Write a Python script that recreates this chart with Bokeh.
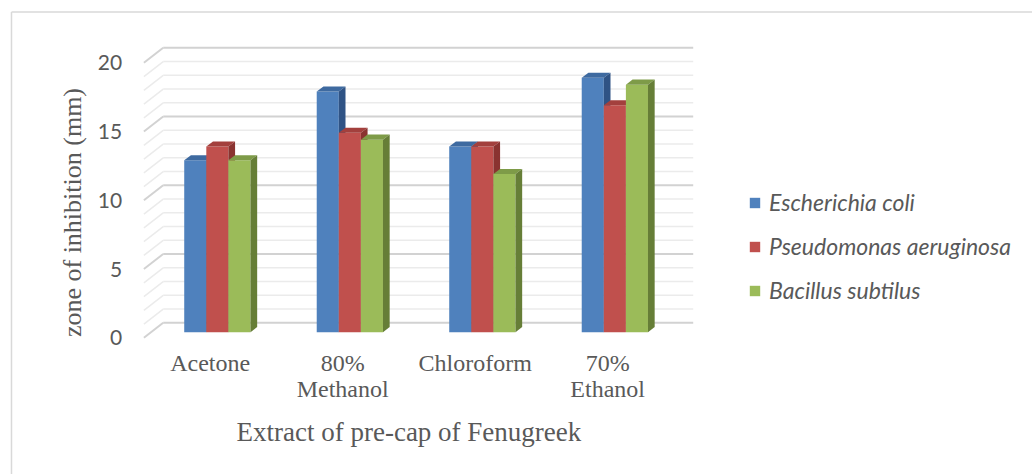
from bokeh.plotting import figure
from bokeh.models import Range1d, Legend, LegendItem
from bokeh.core.properties import value
from bokeh.embed import file_html
from bokeh.resources import INLINE

# ---------------- data ----------------
categories = ["Acetone", "80%\nMethanol", "Chloroform", "70%\nEthanol"]
series_names = ["Escherichia coli", "Pseudomonas aeruginosa", "Bacillus subtilus"]
e_coli = [12.5, 17.5, 13.5, 18.5]
p_aeruginosa = [13.5, 14.5, 13.5, 16.5]
b_subtilus = [12.5, 14.0, 11.5, 18.0]
y_ticks = [0, 5, 10, 15, 20]
y_minor = list(range(0, 21))
x_title = "Extract of pre-cap of Fenugreek"
y_title = "zone of inhibition (mm)"

# ---------------- styles ----------------
face_colors = ["#4F81BD", "#C0504D", "#9BBB59"]
top_colors = ["#3E6AA0", "#A3403D", "#7E9B48"]
side_colors = ["#2F5385", "#8A3330", "#667E37"]
text_gray = "#595959"

W, H = 1032, 474
X0, X1 = -1.08226, 6.70642
Y0, Y1 = -9.9418, 24.5309
DX, DY = 0.14566, 1.0909      # oblique depth offset (data units) of the back wall
D0, DB = 0.373, 0.347         # bar front-face depth, bar thickness (fraction of depth)
BAR_W = 1 / 6

p = figure(width=W, height=H, output_backend="svg", toolbar_location=None,
           x_range=Range1d(X0, X1), y_range=Range1d(Y0, Y1),
           x_axis_location=None, y_axis_location=None, min_border=0)
p.outline_line_color = None
p.xgrid.grid_line_color = None
p.ygrid.grid_line_color = None
p.background_fill_color = "white"

ncat = len(categories)
xb = -0.99925
yb = 23.695
# chart-area border (top and left)
p.line(x=[xb, X1], y=[yb, yb], line_color="#D9D9D9", line_width=1.5)
p.line(x=[xb, xb], y=[yb, Y0], line_color="#D9D9D9", line_width=1.5)

# gridlines: back wall + left side-wall diagonals
for vals, col, lw in [([v for v in y_minor if v % 5], "#EBEBEB", 1.5),
                      ([v for v in y_minor if v % 5 == 0], "#D2D2D2", 2.0)]:
    p.multi_line(xs=[[DX, DX + ncat] for v in vals], ys=[[v + DY, v + DY] for v in vals],
                 line_color=col, line_width=lw)
    p.multi_line(xs=[[0, DX] for v in vals], ys=[[v, v + DY] for v in vals],
                 line_color=col, line_width=lw)

# bars
series = [e_coli, p_aeruginosa, b_subtilus]
face_renderers = []
base = D0 * DY
for i, vals in enumerate(series):
    xl = [c + 0.25 + i * BAR_W + D0 * DX for c in range(ncat)]
    xc = [x + BAR_W / 2 for x in xl]
    tops = [base + v for v in vals]
    r = p.vbar(x=xc, width=BAR_W, bottom=base, top=tops,
               fill_color=face_colors[i], line_color=None)
    face_renderers.append(r)
    ddx, ddy = DB * DX, DB * DY
    top_xs = [[x, x + BAR_W, x + BAR_W + ddx, x + ddx] for x in xl]
    top_ys = [[t, t, t + ddy, t + ddy] for t in tops]
    p.patches(xs=top_xs, ys=top_ys, fill_color=top_colors[i], line_color=None)
    side_xs = [[x + BAR_W, x + BAR_W, x + BAR_W + ddx, x + BAR_W + ddx] for x in xl]
    side_ys = [[base, t, t + ddy, base + ddy] for t in tops]
    p.patches(xs=side_xs, ys=side_ys, fill_color=side_colors[i], line_color=None)

# y tick labels
p.text(x=[-0.1638] * len(y_ticks), y=y_ticks, text=[str(t) for t in y_ticks],
       text_align="right", text_baseline="middle", text_color=text_gray,
       text_font=value("Lato"), text_font_size="21px")

# category labels (possibly two lines)
line1 = [c.split("\n")[0] for c in categories]
line2 = [c.split("\n")[1] if "\n" in c else "" for c in categories]
cx = [c + 0.5 for c in range(ncat)]
p.text(x=cx, y=[-1.825] * ncat, text=line1, text_align="center", text_baseline="alphabetic",
       text_color=text_gray, text_font=value("Liberation Serif"), text_font_size="24px")
p.text(x=cx, y=[-3.716] * ncat, text=line2, text_align="center", text_baseline="alphabetic",
       text_color=text_gray, text_font=value("Liberation Serif"), text_font_size="24px")

# axis titles
p.text(x=[ncat / 2], y=[-6.887], text=[x_title], text_align="center", text_baseline="alphabetic",
       text_color=text_gray, text_font=value("Liberation Serif"), text_font_size="27px")
p.text(x=[-0.539], y=[9.11], text=[y_title], angle=1.5708, text_align="center",
       text_baseline="middle", text_color=text_gray,
       text_font=value("Liberation Serif"), text_font_size="26px")

legend = Legend(items=[LegendItem(label=n, renderers=[r]) for n, r in zip(series_names, face_renderers)],
                location=(748, 170), orientation="vertical",
                glyph_width=13, glyph_height=13, label_standoff=8, label_height=28,
                spacing=16, padding=0, margin=0, border_line_color=None,
                background_fill_alpha=0,
                label_text_font="Lato", label_text_font_style="italic",
                label_text_font_size="23px", label_text_color=text_gray)
p.add_layout(legend, "center")

open("out.html", "w").write(file_html(p, INLINE))
